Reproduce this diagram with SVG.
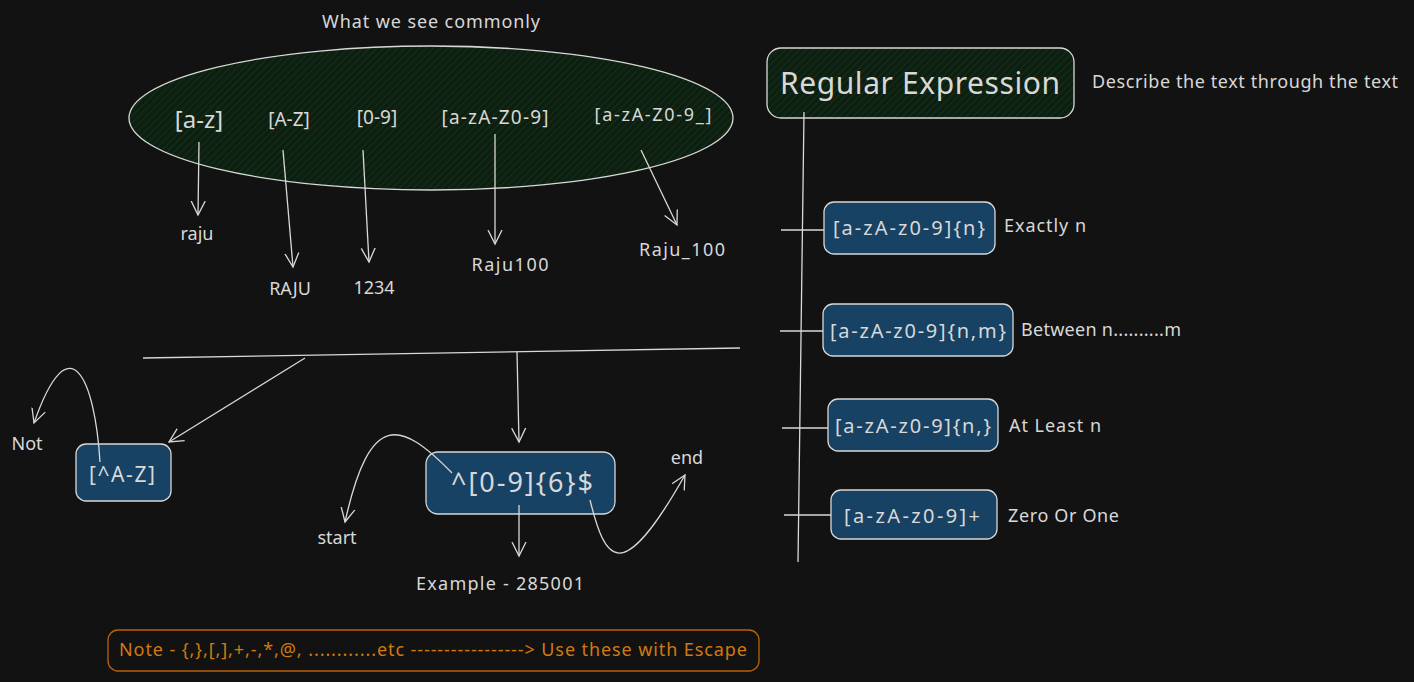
<svg xmlns="http://www.w3.org/2000/svg" width="1414" height="682" viewBox="0 0 1414 682">
<style>
text{font-family:"Noto Sans","Liberation Sans",sans-serif;fill:#d8d8d8}
.ln{stroke:#d8d8d8;stroke-width:1.3;fill:none}
.bx{fill:#174263;stroke:#d8d8d8;stroke-width:1.3}
</style>
<defs>
<pattern id="h" width="5" height="5" patternUnits="userSpaceOnUse" patternTransform="rotate(45)">
<rect width="5" height="5" fill="#0d1f10"/><line x1="0" y1="0" x2="0" y2="5" stroke="#1a3a1e" stroke-width="1.2"/></pattern>
<marker id="a" markerWidth="20" markerHeight="20" refX="14" refY="8" orient="auto" markerUnits="userSpaceOnUse">
<polyline points="0,1 14,8 0,15" fill="none" stroke="#d8d8d8" stroke-width="1.3"/></marker>
</defs>
<rect width="1414" height="682" fill="#121212"/>
<g id="ellipse">
<ellipse cx="431" cy="118" rx="302" ry="72" fill="url(#h)" stroke="#d8d8d8" stroke-width="1.3"/>
<text x="431" y="28" font-size="18" text-anchor="middle" textLength="218">What we see commonly</text>
<text x="199" y="128" font-size="24" text-anchor="middle">[a-z]</text>
<text x="289" y="126" font-size="19" text-anchor="middle">[A-Z]</text>
<text x="377" y="124" font-size="19" text-anchor="middle">[0-9]</text>
<text x="495" y="124" font-size="19" text-anchor="middle" textLength="107">[a-zA-Z0-9]</text>
<text x="653" y="121" font-size="18" text-anchor="middle" textLength="117">[a-zA-Z0-9_]</text>
</g>
<g id="labels-top" font-size="18">
<text x="197" y="240" text-anchor="middle">raju</text>
<text x="290" y="295" text-anchor="middle">RAJU</text>
<text x="374" y="294" text-anchor="middle">1234</text>
<text x="510" y="271" text-anchor="middle" textLength="77">Raju100</text>
<text x="682" y="256" text-anchor="middle" textLength="86">Raju_100</text>
</g>
<g id="regex">
<rect x="767" y="48" width="307" height="70" rx="14" fill="url(#h)" stroke="#d8d8d8" stroke-width="1.3"/>
<text x="920" y="94" font-size="30" text-anchor="middle" textLength="280">Regular Expression</text>
<text x="1092" y="88" font-size="18" textLength="306">Describe the text through the text</text>
</g>
<g id="n1"><rect class="bx" x="824" y="202" width="171" height="52" rx="10"/><text x="909" y="235" font-size="20" text-anchor="middle" textLength="152">[a-zA-z0-9]{n}</text><text x="1004" y="232" font-size="18" textLength="82">Exactly n</text></g>
<g id="n2"><rect class="bx" x="823" y="304" width="190" height="52" rx="10"/><text x="918" y="338" font-size="20" text-anchor="middle" textLength="176">[a-zA-z0-9]{n,m}</text><text x="1021" y="336" font-size="18" textLength="160">Between n..........m</text></g>
<g id="n3"><rect class="bx" x="828" y="399" width="170" height="52" rx="10"/><text x="913" y="433" font-size="20" text-anchor="middle" textLength="156">[a-zA-z0-9]{n,}</text><text x="1009" y="432" font-size="18" textLength="92">At Least n</text></g>
<g id="n4"><rect class="bx" x="831" y="490" width="166" height="49" rx="10"/><text x="912" y="523" font-size="20" text-anchor="middle" textLength="136">[a-zA-z0-9]+</text><text x="1008" y="522" font-size="18" textLength="111">Zero Or One</text></g>
<g id="n5"><rect class="bx" x="76" y="444" width="95" height="57" rx="10"/><text x="122" y="482" font-size="21" text-anchor="middle" textLength="66">[^A-Z]</text></g>
<g id="n6"><rect class="bx" x="426" y="452" width="189" height="62" rx="12"/><text x="522" y="492" font-size="27" text-anchor="middle" textLength="142">^[0-9]{6}$</text></g>
<g id="labels-bottom" font-size="18">
<text x="27" y="450" text-anchor="middle">Not</text>
<text x="337" y="544" text-anchor="middle">start</text>
<text x="687" y="464" text-anchor="middle">end</text>
<text x="500" y="590" text-anchor="middle" textLength="168">Example - 285001</text>
</g>
<g id="note">
<rect x="108" y="630" width="651" height="41" rx="10" fill="none" stroke="#b8620c" stroke-width="1.3"/>
<text x="433" y="656" font-size="18" text-anchor="middle" textLength="628" style="fill:#d07a10">Note - {,},[,],+,-,*,@, ............etc -----------------&gt; Use these with Escape</text>
</g>
<g id="connectors" class="ln">
<path class="ln" d="M199 142 L198 215" marker-end="url(#a)"/>
<path class="ln" d="M283 150 L293 267" marker-end="url(#a)"/>
<path class="ln" d="M363 150 L369 262" marker-end="url(#a)"/>
<path class="ln" d="M495 134 L495 244" marker-end="url(#a)"/>
<path class="ln" d="M641 150 L677 225" marker-end="url(#a)"/>
<path class="ln" d="M143 358 L740 348"/>
<path class="ln" d="M305 358 L169 442" marker-end="url(#a)"/>
<path class="ln" d="M517 352 L519 442" marker-end="url(#a)"/>
<path class="ln" d="M100 462 C95 380 70 320 34 423" marker-end="url(#a)"/>
<path class="ln" d="M452 473 C400 420 370 410 345 522" marker-end="url(#a)"/>
<path class="ln" d="M519 505 L519 556" marker-end="url(#a)"/>
<path class="ln" d="M590 500 C605 560 620 590 685 475" marker-end="url(#a)"/>
<path class="ln" d="M804 112 L798 562"/>
<path class="ln" d="M781 230 L824 230"/>
<path class="ln" d="M780 331 L823 331"/>
<path class="ln" d="M782 428 L828 428"/>
<path class="ln" d="M784 515 L831 515"/>
</g>
</svg>
